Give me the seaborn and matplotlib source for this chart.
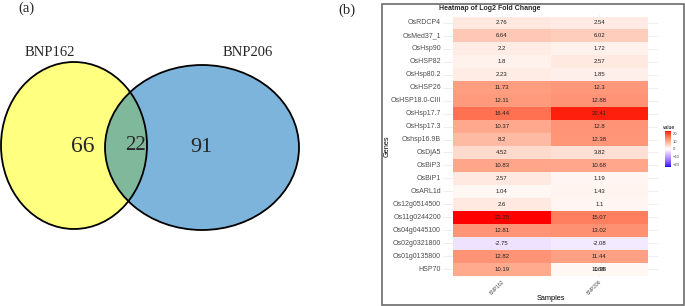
import numpy as np
import pandas as pd
import matplotlib
matplotlib.use("Agg")
import matplotlib.pyplot as plt
import seaborn as sns
from matplotlib.patches import Ellipse, Rectangle
from matplotlib.colors import ListedColormap

# ---------------- data ----------------
venn_sets = ["BNP162", "BNP206"]
venn_only_a = 66
venn_both = 22
venn_only_b = 91

genes = ["OsRDCP4", "OsMed37_1", "OsHsp90", "OsHSP82", "OsHsp80.2", "OsHSP26",
         "OsHSP18.0-CIII", "OsHsp17.7", "OsHsp17.3", "Oshsp16.9B", "OsDjA5",
         "OsBiP3", "OsBiP1", "OsARL1d", "Os12g0514500", "Os11g0244200",
         "Os04g0445100", "Os02g0321800", "Os01g0135800", "HSP70"]
samples = ["BNP162", "BNP206"]
bnp162 = [2.76, 6.64, 2.2, 1.8, 2.23, 11.73, 12.11, 16.44, 10.37, 8.2, 4.52,
          10.83, 2.57, 1.04, 2.6, 23.25, 12.81, -2.75, 12.82, 10.19]
bnp206 = [2.54, 6.02, 1.72, 2.57, 1.85, 12.3, 12.88, 22.41, 12.8, 12.38, 3.82,
          10.68, 1.19, 1.43, 1.1, 15.07, 13.02, -2.08, 11.44, 1.08]
# duplicate HSP70 entry in BNP206 whose label overprints the tile label
hsp70_dup_label = "10.98"
cbar_ticks = [-20, -10, 0, 10, 20]

# ---------------- Lab-space diverging palette (like ggplot gradient2) ----
def _to_lab(rgb):
    c = np.asarray(rgb, float)
    lin = np.where(c <= 0.04045, c / 12.92, ((c + 0.055) / 1.055) ** 2.4)
    M = np.array([[0.4124, 0.3576, 0.1805],
                  [0.2126, 0.7152, 0.0722],
                  [0.0193, 0.1192, 0.9505]])
    xyz = M @ lin / np.array([0.95047, 1.0, 1.08883])
    d = 6 / 29
    f = np.where(xyz > d ** 3, np.cbrt(xyz), xyz / (3 * d * d) + 4 / 29)
    return np.array([116 * f[1] - 16, 500 * (f[0] - f[1]), 200 * (f[1] - f[2])])

def _from_lab(lab):
    L, a, b = lab
    fy = (L + 16) / 116
    fx = fy + a / 500
    fz = fy - b / 200
    d = 6 / 29
    f = np.array([fx, fy, fz])
    xyz = np.where(f > d, f ** 3, 3 * d * d * (f - 4 / 29)) * np.array([0.95047, 1.0, 1.08883])
    Minv = np.array([[3.2406, -1.5372, -0.4986],
                     [-0.9689, 1.8758, 0.0415],
                     [0.0557, -0.2040, 1.0570]])
    lin = Minv @ xyz
    lin = np.clip(lin, 0, 1)
    c = np.where(lin <= 0.0031308, 12.92 * lin, 1.055 * lin ** (1 / 2.4) - 0.055)
    return np.clip(c, 0, 1)

low, mid, high = _to_lab([0, 0, 1]), _to_lab([1, 1, 1]), _to_lab([1, 0, 0])
cols = []
for t in np.linspace(0, 1, 256):
    if t < 0.5:
        s = t / 0.5
        cols.append(_from_lab(low + (mid - low) * s))
    else:
        s = (t - 0.5) / 0.5
        cols.append(_from_lab(mid + (high - mid) * s))
cmap = ListedColormap(cols)

# ---------------- figure ----------------
sns.set_theme(style="white")
W, H = 685, 306
fig = plt.figure(figsize=(W / 100, H / 100), dpi=100)

serif = ["Liberation Serif", "DejaVu Serif"]
sans = ["Liberation Sans", "DejaVu Sans"]

# ---- panel (a): Venn ----
axv = fig.add_axes([0, 0, 370 / W, 1])
axv.set_xlim(0, 370)
axv.set_ylim(H, 0)
axv.axis("off")
c1 = (74, 145.5, 146, 167)
c2 = (202, 147.5, 194, 165)
axv.add_patch(Ellipse(c1[:2], c1[2], c1[3], facecolor="#FFFF80", edgecolor="none"))
e2 = Ellipse(c2[:2], c2[2], c2[3], facecolor="#7DB4DB", edgecolor="none")
axv.add_patch(e2)
e3 = Ellipse(c1[:2], c1[2], c1[3], facecolor="#7FB89B", edgecolor="none")
axv.add_patch(e3)
e3.set_clip_path(e2)
for cx, cy, w, h in [c1, c2]:
    axv.add_patch(Ellipse((cx, cy), w, h, facecolor="none", edgecolor="black", lw=1.3))
axv.text(50, 53, venn_sets[0], ha="center", va="center", fontsize=10.5, family=serif)
axv.text(248, 53, venn_sets[1], ha="center", va="center", fontsize=10.5, family=serif)
axv.text(83, 147, str(venn_only_a), ha="center", va="center", fontsize=17, family=serif)
axv.text(136, 146, str(venn_both), ha="center", va="center", fontsize=15, family=serif)
axv.text(201, 148, str(venn_only_b), ha="center", va="center", fontsize=16, family=serif)
axv.text(26, 8, "(a)", ha="center", va="center", fontsize=10.5, family=serif)
axv.text(347, 10, "(b)", ha="center", va="center", fontsize=10.5, family=serif)

# ---- panel (b): heatmap ----
fig.add_artist(Rectangle((382 / W, 1 - 305 / H), (684 - 382) / W, (305 - 4) / H,
                         transform=fig.transFigure, facecolor="none",
                         edgecolor="#6b6b6b", lw=1.2))

df = pd.DataFrame({samples[0]: bnp162, samples[1]: bnp206}, index=genes)
labels = df.map(lambda v: f"{v:g}")

x0, x1 = 443, 658
y0, y1 = 15.2, 276.8
ax = fig.add_axes([x0 / W, 1 - y1 / H, (x1 - x0) / W, (y1 - y0) / H])
cax = fig.add_axes([665 / W, 1 - 167 / H, 6 / W, 36 / H])
sns.heatmap(df, ax=ax, cmap=cmap, vmin=-23.25, vmax=23.25, annot=labels, fmt="",
            annot_kws={"fontsize": 4.3, "color": "#222222", "family": sans},
            cbar_ax=cax, linewidths=0, xticklabels=True, yticklabels=True)
padx = (x1 - x0 - (648 - 453)) / 2 / ((648 - 453) / 2)
pady = (y1 - y0 - (275.5 - 16.5)) / 2 / ((275.5 - 16.5) / 20)
ax.set_xlim(-padx, 2 + padx)
ax.set_ylim(20 + pady, -pady)
ax.set_axisbelow(True)
ax.grid(True, axis="y", color="#ebebeb", lw=0.6)
ax.grid(True, axis="x", color="#ebebeb", lw=0.6)
for s in ax.spines.values():
    s.set_visible(False)
ax.tick_params(axis="y", length=0, pad=1.5, labelsize=5.0, labelcolor="#4d4d4d")
ax.tick_params(axis="x", length=0, pad=2, labelsize=3.6, labelcolor="#4d4d4d")
for t in ax.get_yticklabels():
    t.set_family(sans)
    t.set_rotation(0)
for t in ax.get_xticklabels():
    t.set_family(sans)
    t.set_rotation(45)
    t.set_ha("right")
    t.set_rotation_mode("anchor")
ax.set_ylabel("Genes", fontsize=5.3, family=sans, color="black")
ax.set_xlabel("Samples", fontsize=5.3, family=sans, color="black")
ax.yaxis.set_label_coords((391 - x0) / (x1 - x0), 0.5)
ax.xaxis.set_label_coords((551 - x0) / (x1 - x0), -(295 - y1) / (y1 - y0))
ax.text(1.5, 19.5, hsp70_dup_label, ha="center", va="center",
        fontsize=4.3, color="#222222", family=sans)
fig.text(490 / W, 1 - 9 / H, "Heatmap of Log2 Fold Change", ha="center", va="center",
         fontsize=5.0, fontweight="bold", family=sans)

cax.set_yticks(cbar_ticks)
cax.tick_params(axis="y", length=1.2, width=0.4, color="white", direction="in",
                pad=1, labelsize=3.0, labelcolor="#4d4d4d")
for t in cax.get_yticklabels():
    t.set_family(sans)
for s in cax.spines.values():
    s.set_visible(False)
fig.text(669 / W, 1 - 127 / H, "value", ha="center", va="center", fontsize=3.6,
         family=sans, color="black")

fig.savefig("out.png", dpi=100)
